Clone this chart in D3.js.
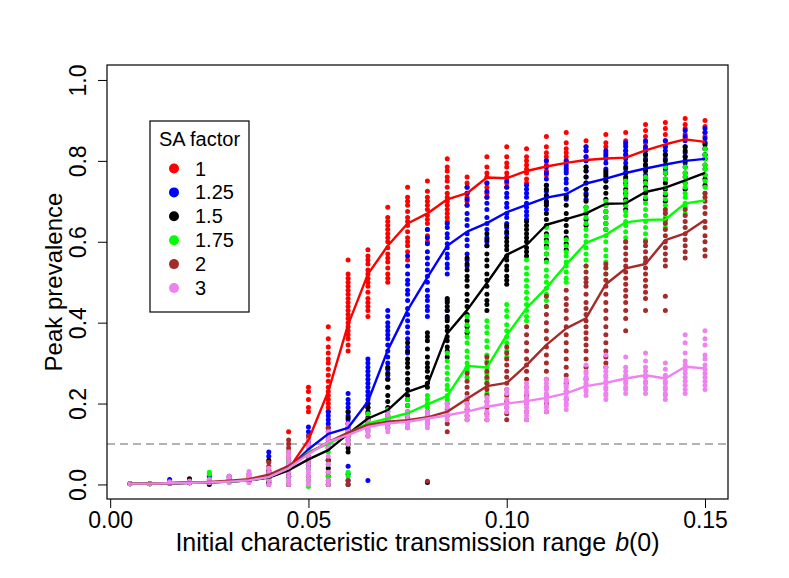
<!DOCTYPE html>
<html>
<head>
<meta charset="utf-8">
<script src="https://cdn.jsdelivr.net/npm/d3@7"></script>
<style>
    body { margin: 0; background: #fff; }
    svg { font-family: "Liberation Sans", Arial, Helvetica, sans-serif; }
    .tick line { stroke: #000; stroke-width: 1; }
    .tick text { fill: #000; font-size: 23px; }
</style>
</head>
<body>
<div class="chart-container"></div>
<script>
// b(0) values (x) and axis ticks
const xVals = [0.005, 0.01, 0.015, 0.02, 0.025, 0.03, 0.035, 0.04, 0.045, 0.05,
    0.055, 0.06, 0.065, 0.07, 0.075, 0.08, 0.085, 0.09, 0.095, 0.1,
    0.105, 0.11, 0.115, 0.12, 0.125, 0.13, 0.135, 0.14, 0.145, 0.15];
const xTicks = [0, 0.05, 0.1, 0.15];
const yTicks = [0, 0.2, 0.4, 0.6, 0.8, 1.0];
const threshold = 0.1;

const seriesNames = ['1', '1.25', '1.5', '1.75', '2', '3'];
const seriesColors = ['#ff0000', '#0000ff', '#000000', '#00ff00', '#a52a2a', '#ee82ee'];

// mean peak prevalence per SA factor
const meanRed = [0.002, 0.002, 0.003, 0.004, 0.005, 0.007, 0.010, 0.018, 0.038, 0.110, 0.230, 0.395, 0.520, 0.590, 0.645, 0.670, 0.705, 0.720, 0.759, 0.757, 0.775, 0.786, 0.795, 0.802, 0.806, 0.808, 0.826, 0.841, 0.853, 0.847];
const meanBlue = [0.002, 0.002, 0.003, 0.004, 0.005, 0.007, 0.010, 0.018, 0.040, 0.087, 0.125, 0.140, 0.205, 0.332, 0.431, 0.512, 0.590, 0.625, 0.646, 0.673, 0.691, 0.709, 0.718, 0.744, 0.756, 0.770, 0.781, 0.791, 0.800, 0.805];
const meanBlack = [0.002, 0.002, 0.003, 0.004, 0.005, 0.007, 0.010, 0.017, 0.035, 0.062, 0.085, 0.125, 0.163, 0.184, 0.229, 0.246, 0.373, 0.431, 0.498, 0.568, 0.592, 0.642, 0.656, 0.670, 0.694, 0.695, 0.723, 0.734, 0.752, 0.770];
const meanGreen = [0.002, 0.002, 0.003, 0.004, 0.005, 0.007, 0.010, 0.019, 0.040, 0.080, 0.100, 0.126, 0.151, 0.163, 0.176, 0.198, 0.219, 0.293, 0.289, 0.369, 0.436, 0.486, 0.544, 0.597, 0.617, 0.648, 0.654, 0.655, 0.695, 0.702];
const meanBrown = [0.002, 0.002, 0.003, 0.004, 0.006, 0.009, 0.013, 0.024, 0.046, 0.077, 0.105, 0.128, 0.147, 0.155, 0.159, 0.166, 0.180, 0.212, 0.243, 0.251, 0.295, 0.345, 0.386, 0.411, 0.495, 0.534, 0.545, 0.604, 0.621, 0.654];
const meanViolet = [0.002, 0.002, 0.003, 0.004, 0.005, 0.007, 0.010, 0.018, 0.040, 0.075, 0.105, 0.122, 0.142, 0.151, 0.155, 0.163, 0.171, 0.180, 0.192, 0.200, 0.206, 0.214, 0.225, 0.243, 0.251, 0.262, 0.270, 0.262, 0.291, 0.287];

// individual runs, one list per b(0) value
const ptsRed = [[0.002], [0.002], [0.003], [0.004], [0.006], [0.006], [0.01],
    [0.01, 0.02, 0.03], [0.02, 0.04, 0.13],
    [0.06, 0.11, 0.18, 0.19, 0.21, 0.23, 0.24],
    [0.18, 0.19, 0.2, 0.21, 0.22, 0.23, 0.24, 0.255, 0.27, 0.285, 0.3, 0.31, 0.325, 0.34, 0.36, 0.39],
    [0.33, 0.345, 0.36, 0.37, 0.38, 0.39, 0.4, 0.41, 0.42, 0.43, 0.44, 0.45, 0.46, 0.47, 0.48, 0.49, 0.5, 0.51, 0.52, 0.555],
    [0.415, 0.43, 0.44, 0.45, 0.46, 0.475, 0.49, 0.5, 0.51, 0.52, 0.53, 0.545, 0.555, 0.565, 0.58],
    [0.5, 0.51, 0.52, 0.535, 0.55, 0.56, 0.57, 0.585, 0.6, 0.61, 0.62, 0.63, 0.64, 0.65, 0.66, 0.685],
    [0.555, 0.575, 0.59, 0.6, 0.61, 0.625, 0.64, 0.65, 0.66, 0.675, 0.69, 0.7, 0.71, 0.735],
    [0.6, 0.615, 0.63, 0.645, 0.655, 0.665, 0.68, 0.69, 0.7, 0.71, 0.725, 0.75],
    [0.65, 0.66, 0.67, 0.68, 0.69, 0.7, 0.71, 0.72, 0.735, 0.75, 0.76, 0.775, 0.785, 0.805],
    [0.69, 0.7, 0.71, 0.72, 0.735, 0.745, 0.76],
    [0.71, 0.72, 0.735, 0.745, 0.76, 0.77, 0.785, 0.81],
    [0.735, 0.745, 0.76, 0.77, 0.785, 0.795, 0.81, 0.835],
    [0.745, 0.755, 0.77, 0.78, 0.79, 0.8, 0.81, 0.83],
    [0.765, 0.775, 0.79, 0.8, 0.81, 0.82, 0.835, 0.86],
    [0.775, 0.785, 0.8, 0.81, 0.82, 0.83, 0.845, 0.87],
    [0.8, 0.81, 0.825, 0.835, 0.85],
    [0.81, 0.82, 0.835, 0.845, 0.865],
    [0.815, 0.825, 0.84, 0.85, 0.87],
    [0.83, 0.845, 0.86, 0.875, 0.89],
    [0.835, 0.85, 0.865, 0.88, 0.895],
    [0.855, 0.865, 0.88, 0.89, 0.905],
    [0.845, 0.86, 0.87, 0.885, 0.9]];
const ptsBlue = [[0.002], [0.002], [0.003, 0.012], [0.004], [0.006, 0.02], [0.008, 0.02], [0.01],
    [0.005, 0.02, 0.07, 0.08], [0.02, 0.05, 0.06],
    [0.04, 0.08, 0.1, 0.12, 0.13, 0.142],
    [0.06, 0.1, 0.13, 0.14, 0.15, 0.16, 0.17, 0.18],
    [0.01, 0.025, 0.045, 0.13, 0.14, 0.15, 0.16, 0.17, 0.18, 0.19, 0.2, 0.21, 0.225],
    [0.01, 0.19, 0.2, 0.21, 0.22, 0.23, 0.24, 0.25, 0.26, 0.27, 0.28, 0.29, 0.3, 0.31],
    [0.24, 0.26, 0.27, 0.285, 0.3, 0.315, 0.33, 0.345, 0.36, 0.37, 0.38, 0.39, 0.4, 0.415, 0.43],
    [0.325, 0.34, 0.36, 0.375, 0.39, 0.405, 0.42, 0.435, 0.455, 0.47, 0.48, 0.495, 0.505, 0.52, 0.54, 0.565],
    [0.415, 0.43, 0.44, 0.455, 0.465, 0.48, 0.5, 0.515, 0.53, 0.545, 0.56, 0.575, 0.595, 0.61, 0.63],
    [0.41, 0.43, 0.455, 0.52, 0.535, 0.545, 0.56, 0.57, 0.585, 0.595, 0.61, 0.62, 0.635, 0.645],
    [0.54, 0.555, 0.57, 0.59, 0.605, 0.62, 0.64, 0.655, 0.67, 0.69, 0.705, 0.72, 0.735],
    [0.59, 0.6, 0.61, 0.63, 0.645, 0.66, 0.68, 0.695, 0.71, 0.725, 0.745],
    [0.62, 0.635, 0.645, 0.66, 0.67, 0.685, 0.695, 0.71, 0.72, 0.735, 0.75],
    [0.655, 0.665, 0.675, 0.685, 0.695, 0.71, 0.72, 0.73, 0.74],
    [0.68, 0.695, 0.71, 0.725, 0.74, 0.755, 0.77, 0.785, 0.8],
    [0.705, 0.715, 0.73, 0.745, 0.755, 0.77, 0.78, 0.79, 0.8],
    [0.705, 0.72, 0.73, 0.745, 0.76, 0.775, 0.785, 0.8, 0.81, 0.825, 0.835],
    [0.735, 0.75, 0.76, 0.77, 0.78, 0.795, 0.805, 0.815, 0.825],
    [0.755, 0.77, 0.78, 0.795, 0.805, 0.815, 0.825, 0.835, 0.845],
    [0.765, 0.78, 0.79, 0.805, 0.815, 0.825, 0.835, 0.85],
    [0.77, 0.78, 0.79, 0.805, 0.815, 0.825, 0.835, 0.85],
    [0.795, 0.81, 0.82, 0.835, 0.85, 0.86, 0.875],
    [0.805, 0.815, 0.83, 0.845, 0.855, 0.87, 0.88]];
const ptsBlack = [[0.002], [0.002], [0.003], [0.004, 0.014], [0.0, 0.006], [0.007], [0.01],
    [0.005, 0.015, 0.03, 0.06], [0.0, 0.02, 0.045],
    [0.02, 0.04, 0.05, 0.06, 0.07, 0.08],
    [0.0, 0.02, 0.04, 0.06, 0.09, 0.11],
    [0.0, 0.08, 0.09, 0.1, 0.11, 0.12, 0.135, 0.15, 0.165, 0.18],
    [0.15, 0.16, 0.165, 0.175, 0.18, 0.19, 0.2],
    [0.15, 0.16, 0.17, 0.18, 0.19, 0.205, 0.22, 0.24, 0.26, 0.275, 0.29],
    [0.18, 0.195, 0.21, 0.22, 0.235, 0.25, 0.26, 0.275, 0.29, 0.3, 0.31, 0.33, 0.35],
    [0.005, 0.24, 0.25, 0.265, 0.28, 0.29, 0.3, 0.315, 0.335, 0.355, 0.365, 0.375],
    [0.315, 0.33, 0.34, 0.355, 0.365, 0.38, 0.39, 0.405, 0.415, 0.43, 0.44, 0.45, 0.46],
    [0.375, 0.39, 0.405, 0.42, 0.44, 0.455, 0.47, 0.49, 0.505, 0.515, 0.53, 0.545, 0.56],
    [0.43, 0.445, 0.455, 0.47, 0.49, 0.505, 0.52, 0.54, 0.555, 0.57, 0.59, 0.605, 0.62],
    [0.495, 0.505, 0.515, 0.53, 0.54, 0.555, 0.565, 0.58, 0.59, 0.6, 0.61, 0.625, 0.64],
    [0.565, 0.575, 0.585, 0.6, 0.61, 0.62, 0.63, 0.64, 0.65],
    [0.555, 0.57, 0.59, 0.605, 0.62, 0.64, 0.655, 0.67, 0.69, 0.7, 0.715, 0.73, 0.74],
    [0.58, 0.595, 0.61, 0.625, 0.64, 0.655, 0.67, 0.69, 0.71],
    [0.64, 0.655, 0.67, 0.685, 0.7, 0.715, 0.73, 0.745, 0.76, 0.775, 0.785],
    [0.63, 0.645, 0.66, 0.675, 0.69, 0.705, 0.72, 0.735, 0.75, 0.765, 0.775],
    [0.68, 0.69, 0.705, 0.72, 0.73, 0.745, 0.76, 0.77, 0.785],
    [0.705, 0.72, 0.735, 0.75, 0.76, 0.775, 0.79, 0.8, 0.815],
    [0.7, 0.715, 0.73, 0.745, 0.755, 0.77, 0.785, 0.8, 0.815],
    [0.73, 0.745, 0.76, 0.77, 0.785, 0.8, 0.81, 0.825, 0.835],
    [0.74, 0.755, 0.765, 0.78, 0.79, 0.805, 0.815, 0.83, 0.84]];
const ptsGreen = [[0.002], [0.002], [0.004], [0.005], [0.005, 0.025, 0.03], [0.008], [0.012],
    [0.01, 0.02, 0.035], [0.01, 0.04, 0.055, 0.08],
    [-0.005, 0.01, 0.04, 0.06, 0.08, 0.09],
    [0.0, 0.02, 0.05, 0.08, 0.1, 0.12],
    [0.02, 0.03, 0.1, 0.12, 0.14],
    [0.13, 0.15, 0.16, 0.175],
    [0.14, 0.155, 0.17, 0.185],
    [0.15, 0.165, 0.18, 0.195, 0.21],
    [0.18, 0.19, 0.2, 0.21, 0.22],
    [0.21, 0.22, 0.235, 0.245, 0.26, 0.275, 0.29, 0.305, 0.325],
    [0.265, 0.28, 0.29, 0.3, 0.315, 0.33, 0.35, 0.365, 0.38, 0.395, 0.415],
    [0.225, 0.24, 0.25, 0.26, 0.275, 0.29, 0.305, 0.32, 0.34, 0.355, 0.375, 0.39, 0.405],
    [0.315, 0.33, 0.35, 0.365, 0.38, 0.395, 0.415, 0.43, 0.445],
    [0.405, 0.415, 0.43, 0.445, 0.46, 0.475, 0.49, 0.505, 0.52, 0.535, 0.555],
    [0.44, 0.455, 0.47, 0.485, 0.5, 0.515, 0.53, 0.55, 0.57, 0.585, 0.6, 0.615, 0.635],
    [0.5, 0.51, 0.525, 0.54, 0.55, 0.565, 0.575, 0.59, 0.605],
    [0.54, 0.555, 0.57, 0.585, 0.6, 0.615, 0.63, 0.645, 0.66, 0.675, 0.685],
    [0.52, 0.535, 0.55, 0.565, 0.58, 0.6, 0.615, 0.63, 0.645, 0.66, 0.675, 0.69, 0.7],
    [0.6, 0.61, 0.625, 0.64, 0.65, 0.665, 0.675, 0.69, 0.7, 0.715, 0.725, 0.74, 0.75],
    [0.605, 0.62, 0.635, 0.65, 0.665, 0.68, 0.695, 0.71, 0.73, 0.745, 0.76],
    [0.635, 0.65, 0.66, 0.675, 0.69, 0.705, 0.72, 0.735, 0.755, 0.77, 0.785],
    [0.67, 0.685, 0.695, 0.71, 0.72, 0.735, 0.745, 0.76, 0.77, 0.785],
    [0.72, 0.735, 0.75, 0.765, 0.78, 0.79, 0.805, 0.815, 0.83]];
const ptsBrown = [[0.002], [0.002], [0.003, 0.008], [0.004, 0.009], [0.006, 0.012], [0.006, 0.012, 0.018], [0.008, 0.018, 0.025],
    [0.0, 0.02, 0.035, 0.045, 0.055], [0.0, 0.03, 0.06, 0.07, 0.08, 0.09, 0.1, 0.11],
    [0.01, 0.05, 0.08, 0.1, 0.11, 0.12],
    [0.0, 0.01, 0.03, 0.06, 0.09, 0.12, 0.14],
    [0.0, 0.01, 0.1, 0.12, 0.14],
    [0.12, 0.135, 0.15, 0.16],
    [0.14, 0.15, 0.16, 0.17],
    [0.14, 0.155, 0.165, 0.175],
    [0.008, 0.15, 0.16, 0.17, 0.18],
    [0.13, 0.15, 0.17, 0.185, 0.2],
    [0.16, 0.17, 0.185, 0.2, 0.21, 0.225, 0.24, 0.255, 0.275],
    [0.16, 0.175, 0.19, 0.205, 0.22, 0.235, 0.25, 0.265, 0.28, 0.3, 0.315],
    [0.16, 0.175, 0.19, 0.205, 0.22, 0.235, 0.25, 0.265, 0.28, 0.295, 0.31, 0.325, 0.34],
    [0.16, 0.18, 0.2, 0.22, 0.24, 0.26, 0.28, 0.295, 0.31, 0.33, 0.35, 0.37, 0.39],
    [0.18, 0.2, 0.22, 0.24, 0.26, 0.28, 0.3, 0.32, 0.34, 0.36, 0.38, 0.4, 0.42, 0.44, 0.465],
    [0.21, 0.23, 0.25, 0.27, 0.29, 0.31, 0.33, 0.35, 0.37, 0.39, 0.41, 0.43, 0.445, 0.46, 0.48],
    [0.26, 0.29, 0.31, 0.33, 0.345, 0.36, 0.375, 0.39, 0.405, 0.42, 0.435, 0.45, 0.47, 0.49, 0.5, 0.51, 0.525, 0.54],
    [0.29, 0.3, 0.315, 0.33, 0.35, 0.37, 0.39, 0.41, 0.43, 0.45, 0.47, 0.49, 0.505, 0.52, 0.535, 0.545],
    [0.38, 0.41, 0.43, 0.45, 0.465, 0.48, 0.495, 0.51, 0.525, 0.54, 0.555, 0.57, 0.585, 0.6],
    [0.43, 0.46, 0.475, 0.49, 0.505, 0.52, 0.535, 0.55, 0.56, 0.575, 0.59, 0.6],
    [0.43, 0.465, 0.54, 0.555, 0.57, 0.585, 0.6, 0.615, 0.63, 0.645, 0.655, 0.67, 0.68],
    [0.56, 0.575, 0.59, 0.605, 0.62, 0.635, 0.65, 0.665, 0.68],
    [0.565, 0.58, 0.6, 0.615, 0.635, 0.65, 0.67, 0.685, 0.7, 0.71, 0.72]];
const ptsViolet = [[0.002], [0.002], [0.003, 0.006], [0.004, 0.008], [0.004, 0.008, 0.012], [0.004, 0.01, 0.016, 0.02], [0.004, 0.01, 0.018, 0.026, 0.032],
    [0.0, 0.01, 0.02, 0.03, 0.04], [0.0, 0.01, 0.02, 0.03, 0.04, 0.05, 0.06, 0.07, 0.08],
    [0.0, 0.01, 0.02, 0.03, 0.04, 0.05, 0.06, 0.07, 0.08, 0.09, 0.1, 0.11],
    [0.0, 0.01, 0.03, 0.05, 0.07, 0.09, 0.1, 0.11, 0.12, 0.13],
    [0.1, 0.11, 0.12, 0.13, 0.14, 0.15],
    [0.12, 0.13, 0.14, 0.15, 0.16],
    [0.13, 0.14, 0.15, 0.16, 0.17, 0.18],
    [0.14, 0.15, 0.16, 0.17, 0.18],
    [0.14, 0.15, 0.16, 0.17, 0.18],
    [0.16, 0.17, 0.18, 0.19, 0.2],
    [0.16, 0.17, 0.18, 0.19, 0.2, 0.215],
    [0.16, 0.17, 0.18, 0.195, 0.205, 0.215],
    [0.18, 0.19, 0.2, 0.21, 0.225, 0.235],
    [0.16, 0.17, 0.18, 0.19, 0.2, 0.21, 0.215, 0.225, 0.23, 0.24, 0.25],
    [0.18, 0.19, 0.195, 0.205, 0.21, 0.22, 0.225, 0.235, 0.24, 0.25, 0.26],
    [0.185, 0.195, 0.2, 0.21, 0.215, 0.225, 0.23, 0.24, 0.245, 0.255, 0.26],
    [0.22, 0.23, 0.235, 0.245, 0.25, 0.26, 0.265, 0.275, 0.28, 0.295],
    [0.21, 0.22, 0.225, 0.235, 0.24, 0.25, 0.255, 0.265, 0.27, 0.28, 0.29, 0.32],
    [0.225, 0.235, 0.24, 0.25, 0.255, 0.265, 0.27, 0.28, 0.29, 0.315],
    [0.225, 0.235, 0.24, 0.25, 0.255, 0.265, 0.27, 0.28, 0.29, 0.305, 0.325],
    [0.21, 0.22, 0.225, 0.235, 0.24, 0.25, 0.255, 0.265, 0.27, 0.285, 0.3],
    [0.225, 0.235, 0.245, 0.255, 0.265, 0.275, 0.285, 0.295, 0.305, 0.325, 0.35, 0.37],
    [0.235, 0.245, 0.255, 0.265, 0.275, 0.285, 0.295, 0.31, 0.32, 0.345, 0.36, 0.38]];

const seriesMeans = [meanRed, meanBlue, meanBlack, meanGreen, meanBrown, meanViolet];
const seriesPoints = [ptsRed, ptsBlue, ptsBlack, ptsGreen, ptsBrown, ptsViolet];

class PeakChart {
    constructor() {
        this.container = document.querySelector('.chart-container');
        this.totalWidth = 789;
        this.totalHeight = 578;
        this.margin = {
            top: 65,
            right: 61,
            bottom: 79,
            left: 107,
        };
        this.width = this.totalWidth - this.margin.left - this.margin.right;
        this.height = this.totalHeight - this.margin.top - this.margin.bottom;

        this.drawChart();
    }

    drawChart() {
        this.appendSVG();
        this.scaleX();
        this.scaleY();
        this.addThreshold();
        seriesPoints.forEach((pts, i) => this.addDots(pts, seriesColors[i]));
        seriesMeans.forEach((means, i) => this.addLine(means, seriesColors[i]));
        this.addBox();
        this.addXAxis();
        this.addYAxis();
        this.addXAxisLabel();
        this.addYAxisLabel();
        this.addLegend();
    }

    appendSVG() {
        this.root = d3.select(this.container)
            .append('svg')
            .attr('width', this.totalWidth)
            .attr('height', this.totalHeight);
        this.svg = this.root.append('g')
            .attr('transform', `translate(${this.margin.left}, ${this.margin.top})`);
    }

    scaleX() {
        // R style 4% padding around the data range
        this.x = d3.scaleLinear()
            .domain([-0.0008, 0.1558])
            .range([0, this.width]);
    }

    scaleY() {
        this.y = d3.scaleLinear()
            .domain([-0.036, 1.037])
            .range([this.height, 0]);
    }

    addThreshold() {
        this.svg.append('line')
            .attr('x1', 0)
            .attr('x2', this.width)
            .attr('y1', this.y(threshold))
            .attr('y2', this.y(threshold))
            .style('stroke', '#b3b3b3')
            .style('stroke-width', 1.8)
            .style('stroke-dasharray', '8,5');
    }

    addDots(pts, color) {
        const data = [];
        pts.forEach((vals, i) => {
            vals.forEach((v) => data.push({ x: xVals[i], v }));
        });
        this.svg.append('g')
            .selectAll('circle')
            .data(data)
            .enter()
            .append('circle')
            .attr('cx', (d) => this.x(d.x))
            .attr('cy', (d) => this.y(d.v))
            .attr('r', 2.5)
            .style('fill', color);
    }

    addLine(means, color) {
        const line = d3.line()
            .x((d, i) => this.x(xVals[i]))
            .y((d) => this.y(d));
        this.svg.append('path')
            .datum(means)
            .attr('d', line)
            .style('fill', 'none')
            .style('stroke', color)
            .style('stroke-width', 2.4)
            .style('stroke-linejoin', 'round');
    }

    addBox() {
        this.svg.append('rect')
            .attr('width', this.width)
            .attr('height', this.height)
            .style('fill', 'none')
            .style('stroke', '#000')
            .style('stroke-width', 1.2);
    }

    addXAxis() {
        const g = this.svg.append('g')
            .attr('class', 'x-axis')
            .attr('transform', `translate(0,${this.height})`)
            .call(d3.axisBottom(this.x)
                .tickValues(xTicks)
                .tickFormat(d3.format('.2f'))
                .tickSize(9)
                .tickSizeOuter(0));
        g.select('.domain').remove();
        g.selectAll('.tick text')
            .attr('y', 29)
            .attr('dy', null);
    }

    addYAxis() {
        const g = this.svg.append('g')
            .attr('class', 'y-axis')
            .call(d3.axisLeft(this.y)
                .tickValues(yTicks)
                .tickFormat(d3.format('.1f'))
                .tickSize(9)
                .tickSizeOuter(0));
        g.select('.domain').remove();
        g.selectAll('.tick text')
            .attr('x', 0)
            .attr('y', -21)
            .attr('dy', null)
            .attr('text-anchor', 'middle')
            .attr('transform', 'rotate(-90)');
    }

    addXAxisLabel() {
        const label = this.svg.append('text')
            .attr('x', this.width / 2)
            .attr('y', this.height + 52)
            .attr('text-anchor', 'middle')
            .style('font-size', '25px');
        label.append('tspan').text('Initial characteristic transmission range');
        label.append('tspan').attr('dx', 9).style('font-style', 'italic').text('b');
        label.append('tspan').text('(0)');
    }

    addYAxisLabel() {
        this.svg.append('text')
            .attr('transform', `translate(-45.5, ${this.height / 2}) rotate(-90)`)
            .attr('text-anchor', 'middle')
            .style('font-size', '24px')
            .text('Peak prevalence');
    }

    addLegend() {
        const legend = this.root.append('g')
            .attr('class', 'legend')
            .attr('transform', 'translate(150, 121)');
        legend.append('rect')
            .attr('width', 99)
            .attr('height', 191)
            .style('fill', '#fff')
            .style('stroke', '#000')
            .style('stroke-width', 1.2);
        legend.append('text')
            .attr('x', 49.5)
            .attr('y', 24.5)
            .attr('text-anchor', 'middle')
            .style('font-size', '20px')
            .text('SA factor');
        const rows = legend.selectAll('.legend-row')
            .data(seriesNames)
            .enter()
            .append('g')
            .attr('class', 'legend-row')
            .attr('transform', (d, i) => `translate(0, ${47.5 + i * 23.9})`);
        rows.append('circle')
            .attr('cx', 24)
            .attr('r', 5)
            .style('fill', (d, i) => seriesColors[i]);
        rows.append('text')
            .attr('x', 45)
            .attr('y', 7)
            .style('font-size', '20px')
            .text((d) => d);
    }
}

new PeakChart();
</script>
</body>
</html>
